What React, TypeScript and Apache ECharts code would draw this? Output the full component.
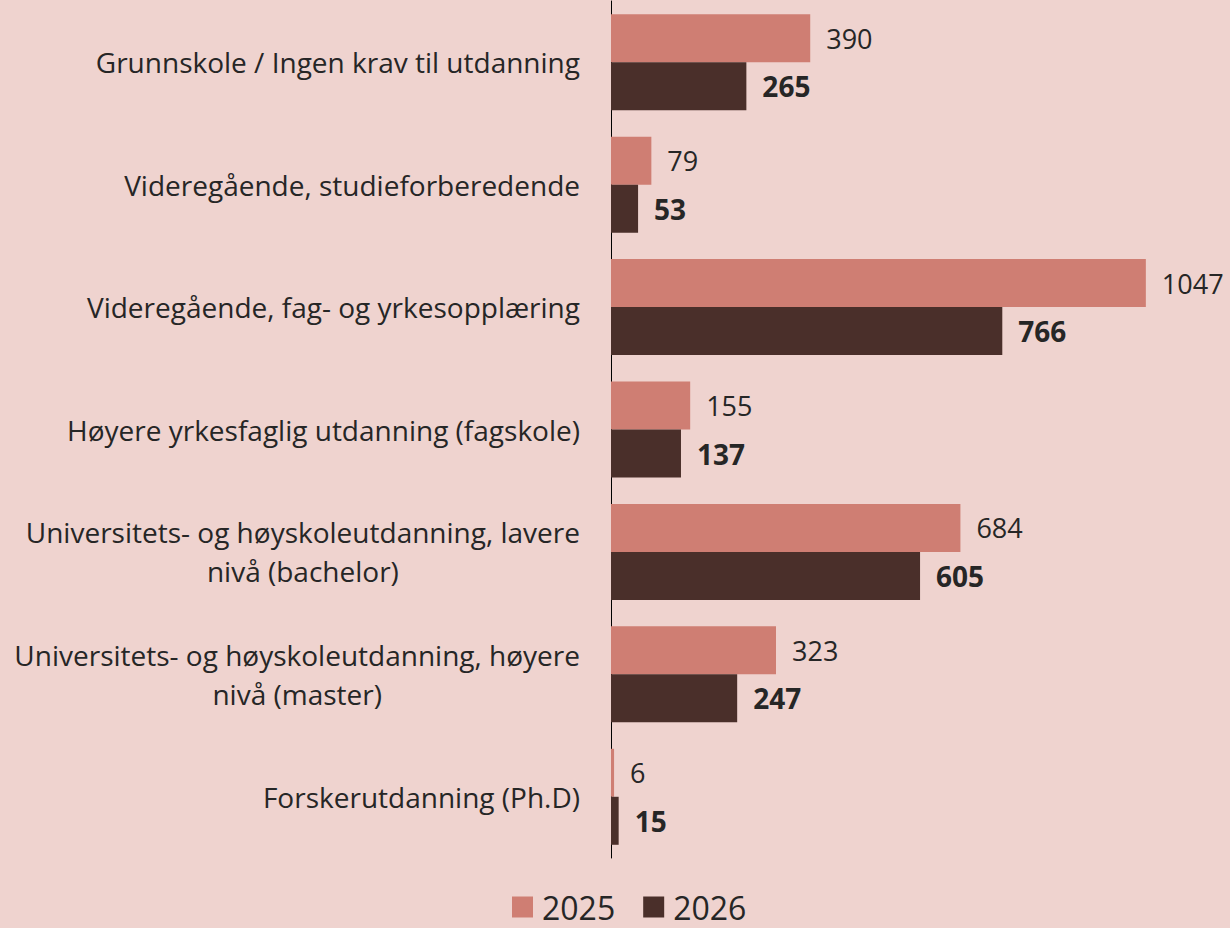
import React, { useEffect, useRef } from "react";
import * as echarts from "echarts";

const categories = [
  "Grunnskole / Ingen krav til utdanning",
  "Videregående, studieforberedende",
  "Videregående, fag- og yrkesopplæring",
  "Høyere yrkesfaglig utdanning (fagskole)",
  "Universitets- og høyskoleutdanning, lavere\nnivå (bachelor)",
  "Universitets- og høyskoleutdanning, høyere\nnivå (master)",
  "Forskerutdanning (Ph.D)",
];
const values2025 = [390, 79, 1047, 155, 684, 323, 6];
const values2026 = [265, 53, 766, 137, 605, 247, 15];
const seriesNames = ["2025", "2026"];

const FONT = "Open Sans";
const TXT = "#262626";

export default function App() {
  const ref = useRef<HTMLDivElement>(null);
  useEffect(() => {
    if (!ref.current) return;
    const chart = echarts.init(ref.current, null, { renderer: "svg" });
    chart.setOption({
      animation: false,
      backgroundColor: "#EFD3CF",
      textStyle: { fontFamily: FONT },
      grid: { left: 611, right: 6, top: 1, bottom: 70, containLabel: false },
      legend: {
        data: seriesNames,
        top: 891,
        left: 512,
        padding: 0,
        icon: "rect",
        itemWidth: 21,
        itemHeight: 21,
        itemGap: 28,
        textStyle: {
          fontSize: 32,
          lineHeight: 30,
          color: TXT,
          fontFamily: FONT,
          padding: [0, 0, 0, 4],
        },
      },
      xAxis: {
        type: "value",
        min: 0,
        max: 1200,
        show: false,
      },
      yAxis: {
        type: "category",
        inverse: true,
        data: categories,
        axisLine: { show: true, lineStyle: { color: "#000", width: 1 } },
        axisTick: { show: false },
        axisLabel: {
          margin: 31,
          fontSize: 28,
          color: TXT,
          fontFamily: FONT,
          formatter: (v: string) => {
            const parts = v.split("\n");
            if (parts.length === 1) return `{a|${v}}`;
            return `{a|${parts[0]}}\n{b|${parts[1]}}`;
          },
          rich: {
            a: { fontSize: 28, color: TXT, fontFamily: FONT, lineHeight: 39 },
            b: { fontSize: 28, color: TXT, fontFamily: FONT, lineHeight: 39, align: "center" },
          },
        },
      },
      series: [
        {
          name: seriesNames[0],
          type: "bar",
          data: values2025,
          barWidth: 48,
          barGap: "0%",
          itemStyle: { color: "#CF7E73" },
          label: {
            show: true,
            position: "right",
            distance: 16,
            fontSize: 27,
            color: TXT,
            fontFamily: FONT,
          },
        },
        {
          name: seriesNames[1],
          type: "bar",
          data: values2026,
          barWidth: 48,
          itemStyle: { color: "#4A2F2A" },
          label: {
            show: true,
            position: "right",
            distance: 16,
            fontSize: 28,
            fontWeight: "bold",
            color: TXT,
            fontFamily: FONT,
          },
        },
      ],
    });
    return () => chart.dispose();
  }, []);
  return (
    <div
      ref={ref}
      style={{ position: "fixed", left: 0, top: 0, width: 1230, height: 928 }}
    />
  );
}
